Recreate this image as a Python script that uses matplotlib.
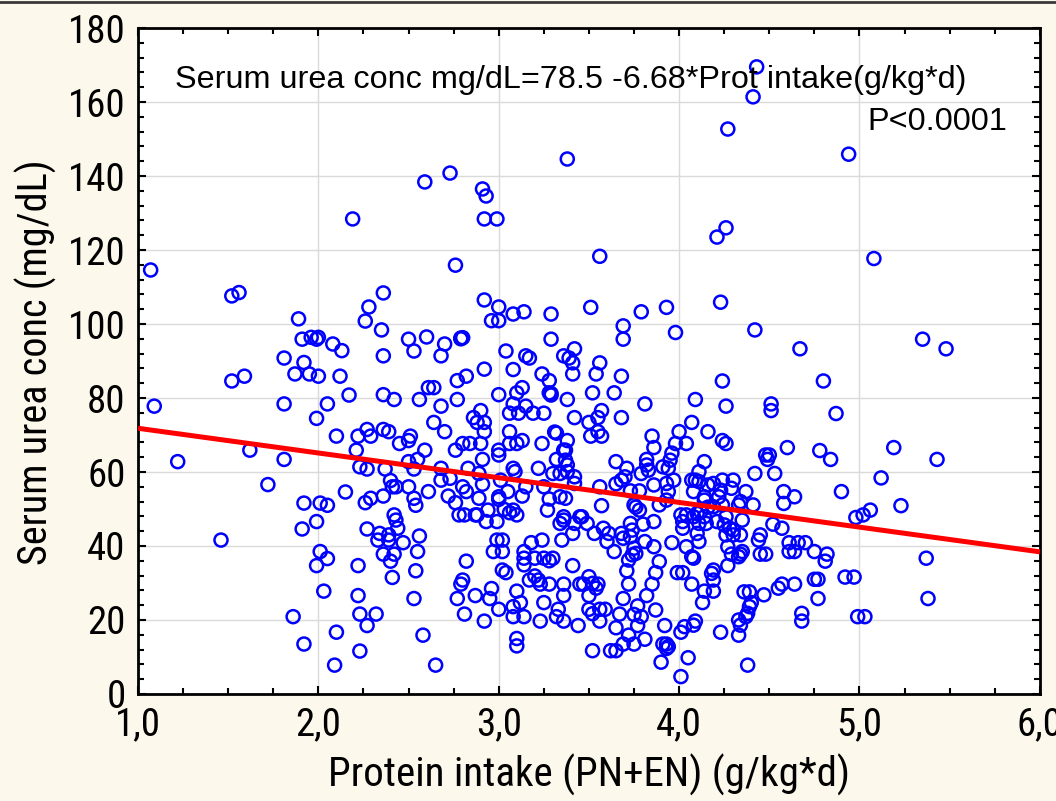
import numpy as np
import matplotlib
matplotlib.use("Agg")
import matplotlib.pyplot as plt
import matplotlib.font_manager as fm
from matplotlib.ticker import MultipleLocator, FuncFormatter
from matplotlib.lines import Line2D

# regression stated on the chart
intercept = 78.5
slope = -6.68

# points, (protein intake g/kg*d, serum urea mg/dL), grouped by area
top_pts = [(2.19, 128.4), (2.59, 138.4), (2.73, 140.8), (2.91, 136.5), (2.93, 134.6), (2.92, 128.4),
           (2.99, 128.4), (3.38, 144.6), (4.43, 169.5), (4.41, 161.4), (4.27, 152.7), (4.94, 145.9),
           (4.26, 126.0), (4.21, 123.5)]

left_hi_pts = [(1.07, 114.6), (1.52, 107.6), (1.56, 108.5), (1.89, 101.4), (1.91, 95.9), (1.96, 96.4),
               (1.99, 95.9), (2.00, 96.4), (2.08, 94.6), (2.13, 92.8), (1.81, 90.8), (1.92, 89.6),
               (1.87, 86.5), (1.95, 86.5), (2.00, 85.9), (2.12, 85.9), (1.52, 84.6), (1.59, 85.9),
               (1.09, 77.8), (1.81, 78.4), (2.05, 78.4), (1.99, 74.5), (2.10, 69.7), (2.17, 80.8)]

left_lo_pts = [(1.22, 62.8), (1.62, 65.9), (1.81, 63.4), (1.72, 56.6), (1.92, 51.6), (2.01, 51.6),
               (2.05, 51.0), (1.99, 46.6), (1.91, 44.6), (1.46, 41.6), (2.01, 38.5), (2.05, 36.6),
               (1.99, 34.7), (2.03, 27.8), (1.86, 20.9), (1.92, 13.5), (2.10, 16.7), (2.09, 7.8),
               (2.15, 54.6)]

mid_hi_pts = [(2.76, 115.9), (2.36, 108.4), (2.28, 104.6), (2.26, 100.8), (2.35, 98.4), (2.50, 95.9),
              (2.53, 92.7), (2.60, 96.5), (2.70, 94.6), (2.68, 91.4), (2.79, 96.2), (2.79, 96.0),
              (2.80, 96.3), (2.36, 91.4), (2.36, 80.9), (2.42, 79.6), (2.56, 79.6), (2.68, 77.8),
              (2.64, 73.4), (2.70, 70.9), (2.61, 82.8), (2.64, 82.8), (2.77, 84.7), (2.82, 85.9),
              (2.92, 87.8), (2.77, 79.6), (2.92, 106.5), (3.00, 104.6), (2.96, 100.9), (3.00, 100.9),
              (3.08, 102.7), (3.14, 103.3), (3.29, 102.7), (3.29, 95.9), (3.04, 92.7), (3.15, 91.4),
              (3.17, 90.8), (3.08, 87.7), (3.24, 86.5), (3.28, 84.7), (3.13, 82.8), (3.10, 81.4),
              (3.28, 81.4), (3.29, 80.8), (3.29, 81.2), (3.38, 79.6), (3.36, 91.4), (3.39, 90.8),
              (3.41, 89.5), (3.42, 93.3), (3.41, 86.5), (3.42, 74.7), (3.00, 80.9), (3.08, 78.4),
              (3.15, 77.8), (3.06, 75.9), (3.11, 75.9), (3.19, 75.9), (3.25, 75.9), (2.90, 76.6),
              (2.86, 74.7), (2.88, 73.4), (2.92, 73.4), (2.92, 70.9), (3.06, 70.9), (3.31, 70.8),
              (3.32, 70.5)]

mid_lo_pts = [(2.22, 69.7), (2.27, 71.5), (2.29, 69.7), (2.36, 71.5), (2.39, 70.9), (2.45, 67.7),
              (2.50, 68.5), (2.51, 69.7), (2.59, 65.9), (2.21, 65.9), (2.23, 61.4), (2.27, 60.8),
              (2.37, 60.8), (2.40, 57.7), (2.41, 56.0), (2.43, 56.0), (2.50, 62.8), (2.53, 60.8),
              (2.55, 63.4), (2.50, 56.0), (2.53, 52.9), (2.54, 51.0), (2.61, 54.7), (2.68, 61.0),
              (2.68, 57.8), (2.73, 58.3), (2.76, 65.9), (2.80, 67.7), (2.84, 67.7), (2.90, 67.7),
              (2.91, 63.4), (2.83, 61.0), (2.89, 59.6), (2.91, 56.7), (2.80, 56.0), (2.82, 54.7),
              (2.72, 53.5), (2.76, 51.7), (2.89, 52.9), (2.78, 48.4), (2.81, 48.4), (2.87, 48.4),
              (2.88, 48.4), (2.94, 49.7), (2.93, 46.6), (2.99, 46.6), (3.00, 65.9), (3.00, 64.6),
              (3.01, 57.8), (3.00, 53.3), (3.00, 52.6), (3.05, 54.7), (3.03, 49.9), (3.06, 49.0),
              (3.08, 49.7), (3.10, 48.4), (3.06, 67.7), (3.10, 67.7), (3.13, 68.5), (3.08, 61.0),
              (3.09, 60.1), (3.15, 56.0), (3.13, 53.5), (3.22, 61.0), (3.24, 67.7), (3.36, 65.9),
              (3.37, 65.9), (3.38, 68.5), (3.32, 63.4), (3.37, 63.2), (3.38, 61.9), (3.30, 59.6),
              (3.34, 59.6), (3.38, 60.1), (3.42, 58.7), (3.42, 56.9), (3.25, 56.0), (3.28, 52.7),
              (3.37, 52.9), (3.34, 53.3), (3.27, 49.7), (3.36, 47.9), (3.34, 46.1), (3.36, 47.0),
              (3.42, 46.1), (3.41, 43.4), (3.35, 41.6), (3.45, 47.9),
              (2.26, 51.7), (2.29, 52.9), (2.36, 53.5), (2.42, 48.4), (2.43, 47.0), (2.44, 44.8),
              (2.27, 44.6), (2.34, 43.4), (2.39, 43.0), (2.33, 41.6), (2.39, 41.6), (2.47, 40.9),
              (2.56, 42.7), (2.55, 38.5), (2.42, 37.8), (2.36, 37.8), (2.40, 35.9), (2.22, 34.7),
              (2.54, 33.3), (2.41, 31.5), (2.22, 26.6), (2.53, 25.8), (2.23, 21.6), (2.32, 21.6),
              (2.27, 18.5), (2.58, 15.9), (2.23, 11.6), (2.65, 7.8),
              (2.82, 35.9), (2.80, 30.8), (2.79, 29.7), (2.87, 26.6), (2.96, 28.5), (2.95, 25.8),
              (2.77, 25.8), (2.81, 21.6), (2.92, 19.7), (3.00, 22.9), (2.99, 41.6), (3.02, 41.6),
              (2.97, 38.5), (3.02, 38.5), (3.02, 33.5), (3.04, 32.8), (3.10, 27.8), (3.12, 24.7),
              (3.08, 23.6), (3.08, 20.9), (3.14, 20.9), (3.10, 15.0), (3.10, 13.0), (3.14, 38.5),
              (3.14, 36.7), (3.14, 34.9), (3.18, 40.9), (3.20, 36.7), (3.24, 41.6), (3.25, 36.7),
              (3.28, 36.0), (3.30, 36.7), (3.17, 30.8), (3.20, 31.9), (3.22, 30.8), (3.23, 29.7),
              (3.28, 29.7), (3.25, 24.7), (3.23, 19.7), (3.41, 34.7), (3.36, 29.7), (3.36, 26.6),
              (3.33, 22.9), (3.32, 20.9), (3.36, 19.7), (3.44, 18.5), (3.45, 29.7)]

right_hi_pts = [(3.56, 118.3), (3.51, 104.5), (3.79, 103.3), (3.93, 104.5), (4.23, 105.9), (3.69, 99.5),
                (3.69, 95.9), (3.98, 97.7), (4.42, 98.4), (4.67, 93.3), (3.56, 89.5), (3.54, 86.5),
                (3.68, 85.9), (4.24, 84.6), (3.52, 81.4), (3.64, 81.4), (3.81, 78.4), (4.09, 79.6),
                (4.26, 77.8), (4.51, 78.4), (4.51, 76.6), (3.57, 76.6), (3.55, 74.7), (3.50, 73.4),
                (3.68, 74.7), (4.07, 73.4), (4.00, 70.9), (4.16, 70.9)]

right_lo_pts = [(3.51, 69.7), (3.55, 70.9), (3.57, 69.7), (3.85, 69.7), (3.86, 66.6), (3.98, 67.7),
                (4.04, 67.7), (4.24, 68.5), (4.26, 67.7), (4.60, 66.6), (4.48, 64.6), (4.50, 64.6),
                (4.49, 63.4), (4.14, 62.8), (3.65, 62.8), (3.71, 61.0), (3.70, 58.7), (3.68, 57.8),
                (3.65, 56.8), (3.82, 63.4), (3.82, 61.9), (3.79, 59.6), (3.83, 60.5), (3.91, 61.4),
                (3.94, 61.0), (3.96, 65.1), (3.95, 63.2), (3.97, 57.8), (3.93, 56.9), (3.86, 56.5),
                (3.78, 54.9), (3.73, 54.9), (3.94, 54.7), (3.93, 52.4), (3.89, 51.1), (3.56, 56.0),
                (3.57, 50.9), (3.75, 51.1), (3.78, 49.7), (3.76, 50.5), (3.46, 47.9), (3.49, 46.1),
                (3.53, 43.4), (3.58, 44.8), (3.61, 43.4), (3.60, 41.2), (3.64, 38.5), (3.68, 43.4),
                (3.69, 42.1), (3.73, 46.1), (3.74, 44.3), (3.73, 42.5), (3.80, 45.9), (3.86, 46.6),
                (3.81, 41.2), (3.86, 39.8), (3.75, 39.4), (3.74, 37.6), (3.72, 36.2), (3.76, 38.0),
                (3.71, 33.3), (3.89, 35.8), (3.87, 32.8), (3.96, 40.9), (4.01, 48.4), (4.04, 48.4),
                (4.02, 46.6), (4.02, 44.8), (4.08, 47.9), (4.10, 48.8), (4.11, 46.1), (4.10, 43.4),
                (4.11, 41.2), (4.04, 39.8), (4.07, 37.1), (4.08, 36.7), (4.14, 47.9), (4.15, 46.1),
                (4.14, 52.4), (4.14, 53.3), (4.19, 50.6), (4.16, 50.5), (4.12, 49.3), (4.07, 57.8),
                (4.09, 57.8), (4.11, 57.4), (4.08, 54.7), (4.11, 60.1), (4.19, 56.9), (4.16, 56.5),
                (4.22, 53.3), (4.23, 55.1), (4.24, 57.8), (4.30, 57.8), (4.29, 55.6), (4.24, 51.1),
                (4.21, 46.6), (4.26, 47.9), (4.25, 45.7), (4.28, 44.8), (4.30, 44.3), (4.26, 43.0),
                (4.30, 43.0), (4.34, 52.0), (4.33, 51.1), (4.37, 54.7), (4.41, 51.1), (4.35, 47.0),
                (4.34, 43.0), (4.42, 59.6), (4.53, 59.6), (4.58, 54.7), (4.64, 53.3), (4.58, 51.5),
                (4.52, 45.9), (4.57, 44.8), (4.45, 43.0), (4.44, 41.6), (4.61, 40.9), (4.66, 40.9),
                (4.70, 40.9), (4.61, 38.5), (4.64, 38.5), (4.45, 37.8), (4.48, 37.8), (4.27, 39.8),
                (4.29, 37.8), (4.34, 37.8), (4.35, 38.5), (4.33, 37.1), (4.27, 34.7), (4.19, 33.5),
                (4.18, 32.6), (4.19, 30.8), (4.07, 29.7), (3.99, 32.8), (4.02, 32.8), (4.14, 27.8),
                (4.19, 27.8), (4.13, 24.7), (4.09, 19.7), (4.08, 18.6), (4.03, 18.2), (4.01, 16.7),
                (4.05, 9.8), (4.01, 4.7), (3.90, 8.6), (3.92, 18.5), (3.91, 13.5), (3.93, 13.5),
                (3.94, 12.8), (3.93, 12.3), (3.87, 22.7), (3.82, 26.6), (3.85, 29.7), (3.77, 23.8),
                (3.75, 21.5), (3.79, 20.9), (3.77, 18.5), (3.81, 14.8), (3.75, 13.5), (3.72, 15.9),
                (3.69, 13.5), (3.65, 17.9), (3.62, 11.7), (3.65, 11.7), (3.52, 11.7), (3.72, 29.7),
                (3.69, 25.8), (3.67, 21.6), (3.50, 31.7), (3.47, 29.7), (3.52, 29.9), (3.55, 29.7),
                (3.54, 28.6), (3.50, 26.6), (3.50, 22.9), (3.52, 21.7), (3.56, 22.9), (3.59, 22.9),
                (3.56, 19.7), (4.33, 20.0), (4.34, 18.6), (4.33, 15.9), (4.38, 21.8), (4.39, 23.6),
                (4.37, 20.9), (4.36, 27.6), (4.39, 27.6), (4.40, 24.7), (4.47, 26.8), (4.38, 7.8),
                (4.23, 16.7), (4.55, 28.6), (4.57, 29.7), (4.64, 29.7), (4.68, 21.8), (4.68, 19.7)]

far_right_pts = [(5.08, 117.7), (5.35, 95.9), (5.48, 93.3), (4.80, 84.6), (4.87, 75.8),
                 (4.78, 65.8), (4.84, 63.4), (5.19, 66.6), (5.43, 63.4), (5.12, 58.4), (4.90, 54.7),
                 (4.98, 47.7), (5.02, 48.4), (5.06, 49.7), (5.23, 50.9), (4.75, 38.5), (4.81, 35.9),
                 (4.82, 37.8), (5.37, 36.7), (4.75, 31.0), (4.77, 31.0), (4.92, 31.6), (4.97, 31.6),
                 (4.77, 25.8), (5.38, 25.8), (4.99, 20.9), (5.03, 20.9)]

all_pts = np.array(top_pts + left_hi_pts + left_lo_pts + mid_hi_pts + mid_lo_pts
                   + right_hi_pts + right_lo_pts + far_right_pts)
protein = all_pts[:, 0]
urea = all_pts[:, 1]

eq_text = "Serum urea conc mg/dL=78.5 -6.68*Prot intake(g/kg*d)"
p_text = "P<0.0001"
x_title = "Protein intake (PN+EN) (g/kg*d)"
y_title = "Serum urea conc (mg/dL)"


def narrow_font():
    # look for an installed condensed / narrow sans face for the axis texts
    regular = [f for f in fm.fontManager.ttflist
               if f.style == "normal" and f.weight in (400, "normal", "regular", "book")]
    for key in ["LiberationSansNarrow-Regular", "NotoSans-Condensed.", "RobotoCondensed-Regular",
                "DejaVuSansCondensed.", "Roboto_Condensed-Regular", "OpenSans_Condensed-Regular"]:
        for f in regular:
            if key.lower() in f.fname.lower():
                return fm.FontProperties(fname=f.fname)
    for f in regular:
        low = f.fname.lower()
        if ("condensed" in low or "narrow" in low) and "semi" not in low and "extra" not in low:
            return fm.FontProperties(fname=f.fname)
    return None


nf = narrow_font()
plain = ["Liberation Sans", "DejaVu Sans"]
bg = "#fdf8ec"

fig = plt.figure(figsize=(10.56, 8.01), dpi=100, facecolor=bg)
ax = fig.add_axes([0.1307, 0.1336, 0.854, 0.8314])
ax.set_facecolor("white")

ax.set_xlim(1, 6)
ax.set_ylim(0, 180)
ax.xaxis.set_major_locator(MultipleLocator(1))
ax.xaxis.set_minor_locator(MultipleLocator(0.25))
ax.yaxis.set_major_locator(MultipleLocator(20))
ax.yaxis.set_minor_locator(MultipleLocator(4))
ax.xaxis.set_major_formatter(FuncFormatter(lambda v, p: ("%.1f" % v).replace(".", ",")))
ax.yaxis.set_major_formatter(FuncFormatter(lambda v, p: "%d" % v))

ax.grid(True, which="major", color="#dadada", lw=1.0, zorder=0)
ax.set_axisbelow(True)

ax.scatter(protein, urea, s=88, facecolors="none", edgecolors="#0000ff", linewidths=1.8, zorder=3)

xs = np.array([1.0, 6.0])
ax.plot(xs, intercept + slope * xs, color="#ff0000", lw=3.6, zorder=4, solid_capstyle="butt")

for s in ax.spines.values():
    s.set_linewidth(2.0)
    s.set_color("black")

ax.tick_params(which="both", direction="in", top=True, right=True, width=1.5, color="black")
ax.tick_params(which="major", length=6, pad=9)
ax.tick_params(which="minor", length=4)

if nf is not None:
    tick_kw = dict(fontproperties=nf)
    tick_size, label_size = 28, 29.5
else:
    tick_kw = dict(family=["Liberation Sans", "DejaVu Sans"])
    tick_size, label_size = 22, 24

for lab in ax.get_xticklabels() + ax.get_yticklabels():
    if nf is not None:
        lab.set_fontproperties(nf)
    else:
        lab.set_family(["Liberation Sans", "DejaVu Sans"])
    lab.set_fontsize(tick_size)

xl = ax.set_xlabel(x_title, **tick_kw)
yl = ax.set_ylabel(y_title, **tick_kw)
xl.set_fontsize(label_size)
yl.set_fontsize(label_size - 0.5)
ax.xaxis.set_label_coords(0.5, -0.09)
ax.yaxis.set_label_coords(-0.09, 0.498)

ax.text(0.041, 0.922, eq_text, transform=ax.transAxes, family=plain, fontsize=23.3,
        va="center", ha="left", zorder=5)
ax.text(0.809, 0.859, p_text, transform=ax.transAxes, family=plain, fontsize=23.3,
        va="center", ha="left", zorder=5)

# thin dark frame line along the top edge of the picture
fig.add_artist(Line2D([0, 1], [0.998, 0.998], transform=fig.transFigure, color="#3a3a3a", lw=2))

fig.savefig("out.png", dpi=100, facecolor=bg)
